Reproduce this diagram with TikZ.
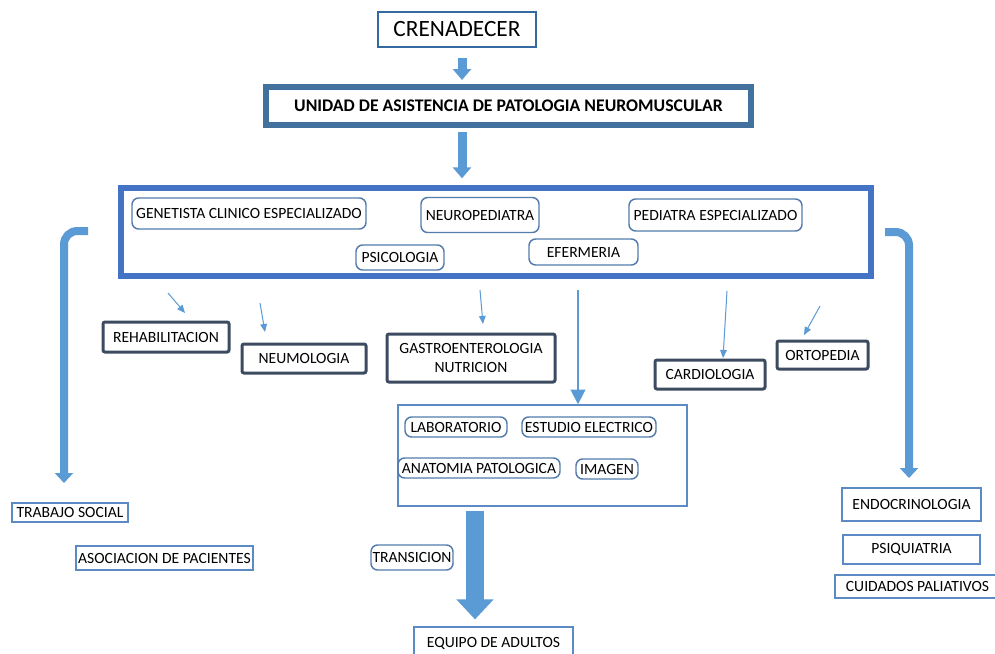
\documentclass[tikz,border=0pt]{standalone}
\usepackage{fontspec}
\setmainfont{Carlito}
\usetikzlibrary{arrows.meta}

\begin{document}
\begin{tikzpicture}[x=0.75pt,y=0.75pt,yscale=-1,xscale=1,
  every node/.style={font=\fontsize{11.7}{13.8}\selectfont, inner sep=0.75pt, align=center},
  roundbox/.style={draw={rgb, 255:red, 84; green, 124; blue, 172}, line width=1.1, rounded corners=5},
  darkbox/.style={draw={rgb, 255:red, 60; green, 75; blue, 96}, line width=2.25, rounded corners=1.5},
  flatbox/.style={draw={rgb, 255:red, 91; green, 138; blue, 196}, line width=0.9},
  blockarrow/.style={draw={rgb, 255:red, 91; green, 155; blue, 213}, line width=6.75, -{Triangle[width=13.5pt,length=8.25pt]}},
  bentarrow/.style={draw={rgb, 255:red, 91; green, 155; blue, 213}, line width=6, rounded corners=10, -{Triangle[width=13.5pt,length=7.5pt]}},
  fatarrow/.style={draw={rgb, 255:red, 91; green, 155; blue, 213}, line width=13, -{Triangle[width=27pt,length=15pt]}},
  thinarrow/.style={draw={rgb, 255:red, 91; green, 155; blue, 213}, line width=0.75, -{Triangle[width=5pt,length=6pt]}}
]
\clip (0,0) rectangle (995,653);
\fill [white] (0,0) rectangle (995,653);

%Top boxes
\node (cren) at (457,29.5) [draw={rgb, 255:red, 52; green, 106; blue, 160}, line width=1.5, minimum width=118.5pt, minimum height=26.25pt, font=\fontsize{17.5}{20}\selectfont] {CRENADECER};
\node (unidad) at (508.5,106) [draw={rgb, 255:red, 65; green, 113; blue, 156}, line width=4.5, minimum width=363.75pt, minimum height=28.5pt, font=\fontsize{13.3}{15}\selectfont\bfseries] {UNIDAD DE ASISTENCIA DE PATOLOGIA NEUROMUSCULAR};
\node (equipo) at (496,232) [draw={rgb, 255:red, 68; green, 114; blue, 196}, line width=4.5, minimum width=562.5pt, minimum height=66pt] {};

% Text Node
\node (gen) at (249,213.5) [roundbox, minimum width=175.5pt, minimum height=23.25pt] {GENETISTA CLINICO ESPECIALIZADO};
\node (neuro) at (480,215) [roundbox, minimum width=88.5pt, minimum height=26.25pt] {NEUROPEDIATRA};
\node (ped) at (715.5,215) [roundbox, minimum width=129.75pt, minimum height=24pt] {PEDIATRA ESPECIALIZADO};
\node (psico) at (400,257.5) [roundbox, minimum width=66pt, minimum height=18.75pt] {PSICOLOGIA};
\node (efer) at (583.5,252) [roundbox, minimum width=81.75pt, minimum height=19.5pt] {EFERMERIA};

% Text Node
\node (rehab) at (166,337) [darkbox, minimum width=94.5pt, minimum height=22.5pt] {REHABILITACION};
\node (neumo) at (304,358.5) [darkbox, minimum width=93pt, minimum height=21.75pt] {NEUMOLOGIA};
\node (gastro) at (471,358) [darkbox, minimum width=126pt, minimum height=36pt] {GASTROENTEROLOGIA\\NUTRICION};
\node (cardio) at (710,374.5) [darkbox, minimum width=82.5pt, minimum height=21.75pt] {CARDIOLOGIA};
\node (orto) at (822.5,355) [darkbox, minimum width=68.25pt, minimum height=21pt] {ORTOPEDIA};

%Pruebas
\node (pruebas) at (542.5,455.5) [flatbox, line width=1.1, minimum width=216.75pt, minimum height=75.75pt] {};
\node (lab) at (456,427) [roundbox, minimum width=76.5pt, minimum height=15pt] {LABORATORIO};
\node (estudio) at (589,427) [roundbox, minimum width=100.5pt, minimum height=15pt] {ESTUDIO ELECTRICO};
\node (anat) at (479,468) [roundbox, minimum width=121.5pt, minimum height=15pt] {ANATOMIA PATOLOGICA};
\node (imagen) at (607,469) [roundbox, minimum width=46.5pt, minimum height=15pt] {IMAGEN};

\node (trans) at (412,557.5) [roundbox, minimum width=61.5pt, minimum height=18.75pt] {TRANSICION};
\node (adultos) at (493.5,643.5) [flatbox, minimum width=119.25pt, minimum height=24.75pt] {EQUIPO DE ADULTOS};

%Side boxes
\node (trabajo) at (70,512.5) [flatbox, minimum width=87pt, minimum height=14.25pt] {TRABAJO SOCIAL};
\node (asoc) at (164.5,558) [flatbox, minimum width=132.75pt, minimum height=18pt] {ASOCIACION DE PACIENTES};
\node (endo) at (911.5,504.5) [flatbox, minimum width=104.25pt, minimum height=24.75pt] {ENDOCRINOLOGIA};
\node (psiq) at (911.5,549.5) [flatbox, minimum width=102.75pt, minimum height=21.75pt] {PSIQUIATRIA};
\node (cuid) at (917.5,586.5) [flatbox, minimum width=123.75pt, minimum height=17.25pt] {CUIDADOS PALIATIVOS};

%Arrows
\coordinate (midx) at (462,0);
\coordinate (fatx) at (475,0);
\draw [blockarrow, shorten <=7.5pt, shorten >=3pt] (cren.south -| midx) -- (unidad.north -| midx);
\draw [blockarrow, shorten <=3pt, shorten >=5pt] (unidad.south -| midx) -- (equipo.north -| midx);
\draw [fatarrow, shorten <=3pt, shorten >=5.25pt] (pruebas.south -| fatx) -- (adultos.north -| fatx);

\coordinate (lout) at (88,231);
\coordinate (lend) at (64,483);
\coordinate (rout) at (885,232);
\coordinate (rend) at (909,478);
\draw [bentarrow] (lout) -- (lend |- lout) -- (lend);
\draw [bentarrow] (rout) -- (rend |- rout) -- (rend);

\coordinate (t1) at (168,293);
\coordinate (h1) at (185,313);
\coordinate (t2) at (260,303);
\coordinate (h2) at (265,332);
\coordinate (t3) at (480,290);
\coordinate (h3) at (483,324);
\coordinate (t4) at (578,290);
\coordinate (t5) at (727,291);
\coordinate (h5) at (723,358);
\coordinate (t6) at (820,306);
\coordinate (h6) at (804,335);
\draw [thinarrow] (t1) -- (h1);
\draw [thinarrow] (t2) -- (h2);
\draw [thinarrow] (t3) -- (h3);
\draw [thinarrow, line width=1.5, -{Triangle[width=11pt,length=11pt]}] (t4) -- (t4 |- pruebas.north);
\draw [thinarrow] (t5) -- (h5);
\draw [thinarrow] (t6) -- (h6);

\end{tikzpicture}
\end{document}
